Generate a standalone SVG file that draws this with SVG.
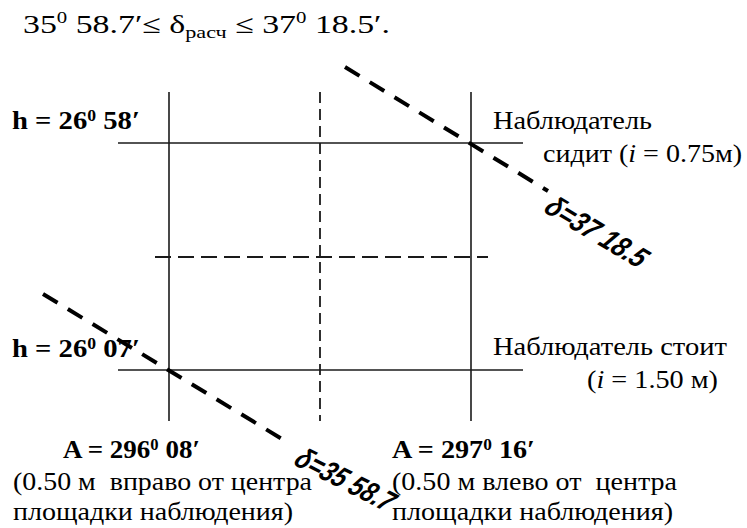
<svg xmlns="http://www.w3.org/2000/svg" width="747" height="528" viewBox="0 0 747 528">
<style>
text{font-family:"Liberation Serif","Times New Roman",serif;fill:#000;font-size:26px}
.b{font-weight:bold}
.sup{font-size:16px}
.sub{font-size:17px}
.grid{stroke:#1a1a1a;stroke-width:1.6;fill:none}
.dh{stroke:#1a1a1a;stroke-width:1.8;stroke-dasharray:16 7;fill:none}
.dv{stroke:#1a1a1a;stroke-width:1.8;stroke-dasharray:11 6;fill:none}
.diag{stroke:#000;stroke-width:4;stroke-dasharray:17 12;fill:none}
.dl{font-family:"Liberation Sans","DejaVu Sans",sans-serif;font-style:italic;font-weight:bold;font-size:30px}
</style>
<rect width="747" height="528" fill="#fff"/>
<g id="formula">
<text x="23" y="33" textLength="367" lengthAdjust="spacingAndGlyphs">35<tspan class="sup" dy="-10">0</tspan><tspan dy="10"> 58.7′≤ δ</tspan><tspan class="sub" dy="5">расч</tspan><tspan dy="-5"> ≤ 37</tspan><tspan class="sup" dy="-10">0</tspan><tspan dy="10"> 18.5′.</tspan></text>
</g>
<g id="connectors">
<line class="grid" x1="169" y1="92" x2="169" y2="421"/>
<line class="grid" x1="471" y1="92" x2="471" y2="421"/>
<line class="dv" x1="320" y1="92" x2="320" y2="421"/>
<line class="grid" x1="118" y1="143" x2="523" y2="143"/>
<line class="grid" x1="118" y1="370" x2="523" y2="370"/>
<line class="dh" x1="155" y1="257" x2="488" y2="257"/>
<line class="diag" x1="345" y1="67" x2="548" y2="191"/>
<line class="diag" x1="43" y1="294" x2="287" y2="442"/>
</g>
<g id="h-top"><text class="b" x="12" y="129" textLength="128" lengthAdjust="spacingAndGlyphs">h = 26<tspan class="sup" dy="-8">0</tspan><tspan dy="8"> 58′</tspan></text></g>
<g id="h-bottom"><text class="b" x="12" y="357" textLength="128" lengthAdjust="spacingAndGlyphs">h = 26<tspan class="sup" dy="-8">0</tspan><tspan dy="8"> 07′</tspan></text></g>
<g id="observer-sits">
<text x="493" y="129" textLength="159" lengthAdjust="spacingAndGlyphs">Наблюдатель</text>
<text x="543" y="162" textLength="199" lengthAdjust="spacingAndGlyphs">сидит (<tspan font-style="italic">i</tspan> = 0.75м)</text>
</g>
<g id="observer-stands">
<text x="493" y="355" textLength="234" lengthAdjust="spacingAndGlyphs">Наблюдатель стоит</text>
<text x="587" y="388" textLength="131" lengthAdjust="spacingAndGlyphs">(<tspan font-style="italic">i</tspan> = 1.50 м)</text>
</g>
<g id="a-left">
<text class="b" x="63" y="458" textLength="137" lengthAdjust="spacingAndGlyphs">A = 296<tspan class="sup" dy="-8">0</tspan><tspan dy="8"> 08′</tspan></text>
<text x="13" y="490" textLength="299" lengthAdjust="spacingAndGlyphs" xml:space="preserve">(0.50 м  вправо от центра</text>
<text x="13" y="520" textLength="280" lengthAdjust="spacingAndGlyphs">площадки наблюдения)</text>
</g>
<g id="a-right">
<text class="b" x="392" y="458" textLength="143" lengthAdjust="spacingAndGlyphs">A = 297<tspan class="sup" dy="-8">0</tspan><tspan dy="8"> 16′</tspan></text>
<text x="392" y="490" textLength="285" lengthAdjust="spacingAndGlyphs" xml:space="preserve">(0.50 м влево от  центра</text>
<text x="392" y="520" textLength="281" lengthAdjust="spacingAndGlyphs">площадки наблюдения)</text>
</g>
<g id="delta-top"><text class="dl" transform="translate(542,211) rotate(31) skewX(-10)" textLength="112" lengthAdjust="spacingAndGlyphs">δ=37 18.5</text></g>
<g id="delta-bottom"><text class="dl" transform="translate(292,464) rotate(27) skewX(-10)" textLength="106" lengthAdjust="spacingAndGlyphs">δ=35 58.7</text></g>
</svg>
